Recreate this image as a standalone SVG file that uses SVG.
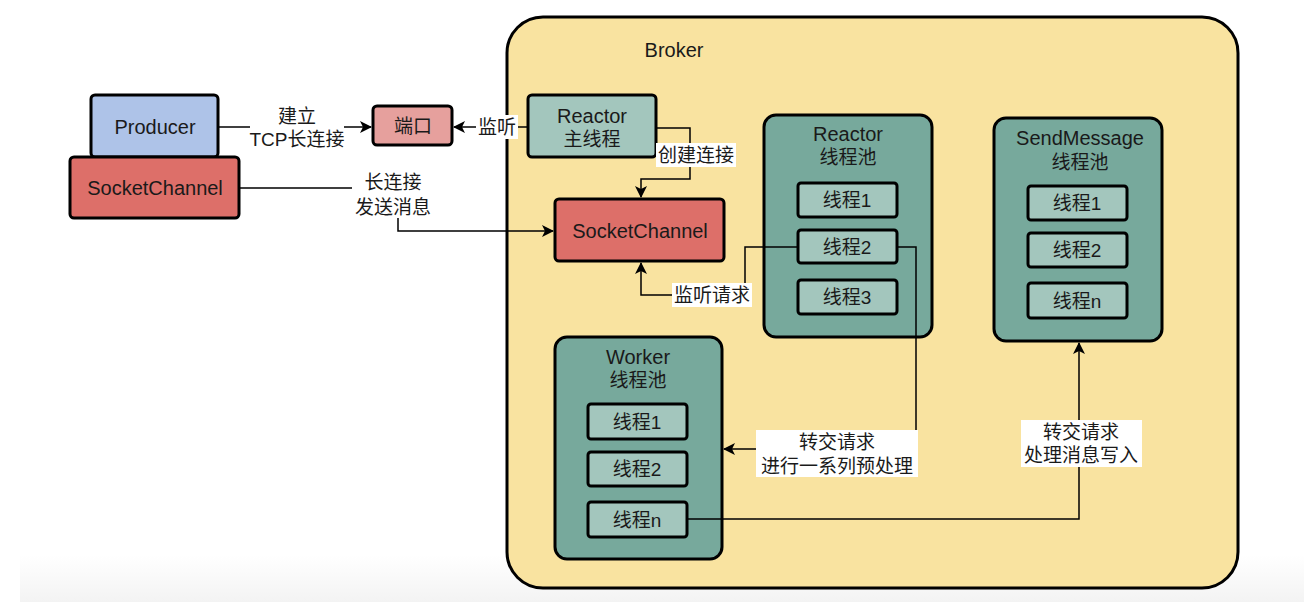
<svg xmlns="http://www.w3.org/2000/svg" width="1304" height="602" viewBox="0 0 1304 602">
<defs>
<linearGradient id="bg" x1="0" y1="0" x2="0" y2="1">
<stop offset="0" stop-color="#ffffff"/>
<stop offset="1" stop-color="#f3f3f3"/>
</linearGradient>
<marker id="arr" viewBox="0 0 12 12" refX="11" refY="6" markerWidth="12" markerHeight="12" markerUnits="userSpaceOnUse" orient="auto">
<path d="M0,0 L12,6 L0,12 L3,6 Z" fill="#000"/>
</marker>
<style>
text{font-family:"Liberation Sans","Noto Sans CJK SC",sans-serif;font-size:19px;fill:#1a1a1a;text-anchor:middle;dominant-baseline:central}
.lat{font-size:20px}
.node{stroke:#000;stroke-width:3}
.pool{fill:#77a99c;stroke:#000;stroke-width:3}
.inner{fill:#a3c6bd;stroke:#000;stroke-width:3}
.edge{fill:none;stroke:#000;stroke-width:1.5}
.lbl{fill:#fff}
</style>
</defs>
<rect width="1304" height="602" fill="#fff"/>
<rect x="20" y="555" width="1284" height="47" fill="url(#bg)"/>
<g id="broker">
<rect x="507" y="17" width="731" height="571" rx="36" fill="#f9e3a0" stroke="#000" stroke-width="3"/>
<text class="lat" x="674" y="50">Broker</text>
</g>
<g id="producer">
<rect class="node" x="91" y="95" width="127" height="62" rx="4" fill="#aec3e8"/>
<text class="lat" x="155" y="127">Producer</text>
</g>
<g id="client-socketchannel">
<rect class="node" x="70" y="157" width="169" height="61" rx="4" fill="#dd6f69"/>
<text class="lat" x="155" y="188">SocketChannel</text>
</g>
<g id="port">
<rect class="node" x="373" y="106" width="79" height="39" rx="4" fill="#e6a09d"/>
<text x="413" y="126">端口</text>
</g>
<g id="reactor-main">
<rect class="node" x="528" y="95" width="128" height="62" rx="4" fill="#a3c6bd"/>
<text class="lat" x="592" y="116">Reactor</text>
<text x="592" y="139">主线程</text>
</g>
<g id="broker-socketchannel">
<rect class="node" x="555" y="199" width="169" height="62" rx="4" fill="#dd6f69"/>
<text class="lat" x="640" y="231">SocketChannel</text>
</g>
<g id="reactor-pool">
<rect class="pool" x="764" y="115" width="168" height="222" rx="12"/>
<text class="lat" x="848" y="134">Reactor</text>
<text x="848" y="157">线程池</text>
<rect class="inner" x="798" y="183" width="99" height="34" rx="3"/>
<text x="847" y="200">线程1</text>
<rect class="inner" x="798" y="230" width="99" height="33" rx="3"/>
<text x="847" y="247">线程2</text>
<rect class="inner" x="798" y="280" width="99" height="34" rx="3"/>
<text x="847" y="297">线程3</text>
</g>
<g id="worker-pool">
<rect class="pool" x="555" y="337" width="167" height="222" rx="12"/>
<text class="lat" x="638" y="357">Worker</text>
<text x="638" y="380">线程池</text>
<rect class="inner" x="588" y="404" width="99" height="35" rx="3"/>
<text x="637" y="422">线程1</text>
<rect class="inner" x="588" y="452" width="99" height="34" rx="3"/>
<text x="637" y="469">线程2</text>
<rect class="inner" x="588" y="502" width="99" height="35" rx="3"/>
<text x="637" y="520">线程n</text>
</g>
<g id="sendmessage-pool">
<rect class="pool" x="994" y="118" width="168" height="223" rx="12"/>
<text class="lat" x="1080" y="138">SendMessage</text>
<text x="1080" y="162">线程池</text>
<rect class="inner" x="1028" y="186" width="99" height="34" rx="3"/>
<text x="1077" y="203">线程1</text>
<rect class="inner" x="1028" y="233" width="99" height="34" rx="3"/>
<text x="1077" y="250">线程2</text>
<rect class="inner" x="1028" y="283" width="99" height="35" rx="3"/>
<text x="1077" y="301">线程n</text>
</g>
<g id="connectors">
<path class="edge" d="M218,127 H371" marker-end="url(#arr)"/>
<rect class="lbl" x="250" y="105" width="94" height="46"/>
<text x="297" y="116">建立</text>
<text x="297" y="139">TCP长连接</text>
<path class="edge" d="M528,127 H454" marker-end="url(#arr)"/>
<rect class="lbl" x="476" y="115" width="42" height="24"/>
<text x="497" y="127">监听</text>
<path class="edge" d="M656,128 H690 V179 H641 V197" marker-end="url(#arr)"/>
<rect class="lbl" x="656" y="143" width="80" height="24"/>
<text x="696" y="155">创建连接</text>
<path class="edge" d="M239,188 H398 V231 H553" marker-end="url(#arr)"/>
<rect class="lbl" x="352" y="170" width="84" height="48"/>
<text x="393" y="182">长连接</text>
<text x="393" y="207">发送消息</text>
<path class="edge" d="M798,247 H745 V295 H641 V263" marker-end="url(#arr)"/>
<rect class="lbl" x="672" y="283" width="80" height="24"/>
<text x="712" y="295">监听请求</text>
<path class="edge" d="M897,247 H916 V449 H724" marker-end="url(#arr)"/>
<rect class="lbl" x="756" y="430" width="162" height="47"/>
<text x="837" y="442">转交请求</text>
<text x="837" y="466">进行一系列预处理</text>
<path class="edge" d="M687,519 H1079 V343" marker-end="url(#arr)"/>
<rect class="lbl" x="1021" y="420" width="121" height="47"/>
<text x="1081" y="432">转交请求</text>
<text x="1081" y="455">处理消息写入</text>
</g>
</svg>
